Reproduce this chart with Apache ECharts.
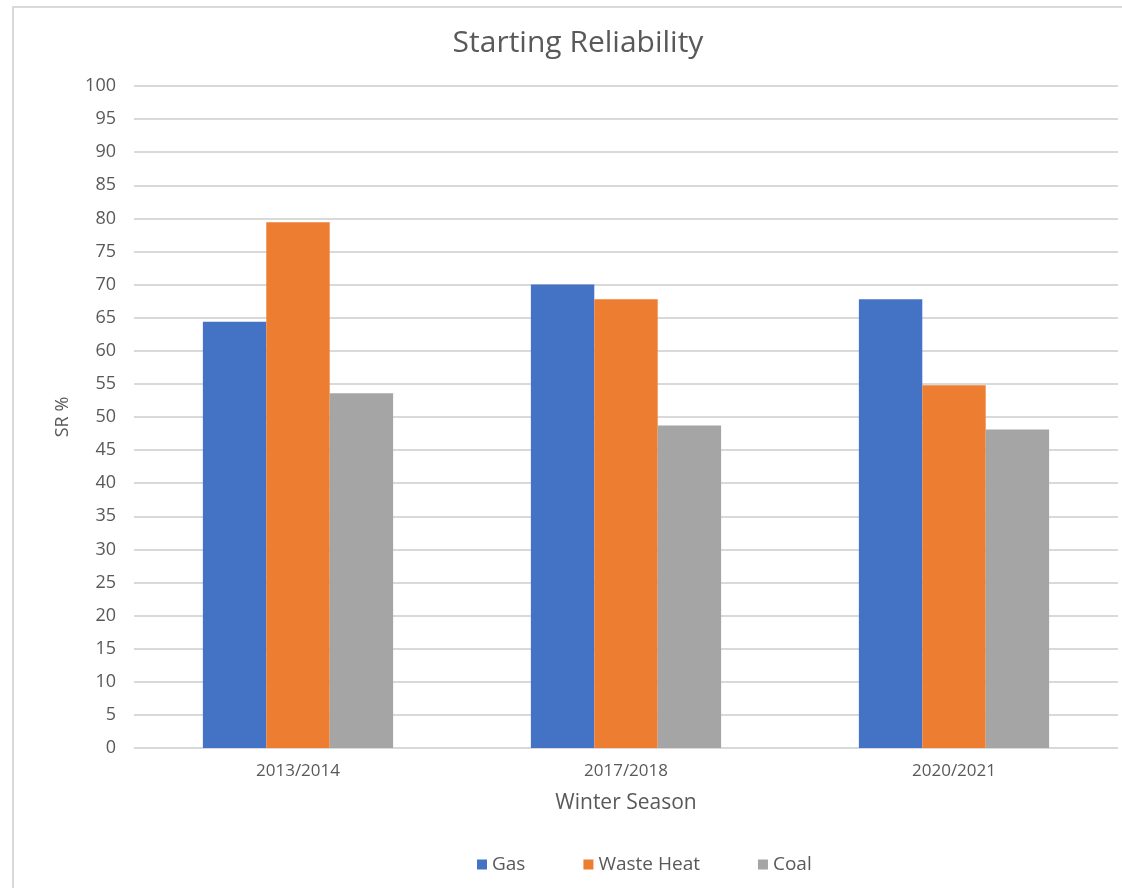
<!DOCTYPE html>
<html>
<head>
<meta charset="utf-8">
<script src="https://cdn.jsdelivr.net/npm/echarts@6/dist/echarts.min.js"></script>
<style>
  html, body { margin: 0; padding: 0; background: #fff; }
  #chart { width: 1122px; height: 888px; }
</style>
</head>
<body>
<div id="chart"></div>
<script>
// Winter seasons on the category axis
const seasons = ['2013/2014', '2017/2018', '2020/2021'];

// Starting reliability (%) per unit type
const gas = [64.4, 70.0, 67.8];
const wasteHeat = [79.4, 67.8, 54.8];
const coal = [53.6, 48.7, 48.1];

// Value-axis range and step
const yMin = 0;
const yMax = 100;
const yStep = 5;

const FONT = '"Open Sans", "Noto Sans", sans-serif';
const TEXT = '#595959';

const chart = echarts.init(document.getElementById('chart'), null, { renderer: 'canvas' });

function barSeries(name, data, color) {
  return {
    name: name,
    type: 'bar',
    data: data,
    barGap: '0%',
    barCategoryGap: '42%',
    itemStyle: { color: color },
    emphasis: { disabled: true }
  };
}

chart.setOption({
  animation: false,
  backgroundColor: '#ffffff',
  textStyle: { fontFamily: FONT },
  graphic: [
    {
      type: 'polyline',
      shape: { points: [[13, 888], [13, 7], [1122, 7]] },
      style: { stroke: '#d9d9d9', lineWidth: 2, fill: null },
      silent: true
    }
  ],
  title: {
    text: 'Starting Reliability',
    left: 573,
    textAlign: 'center',
    top: 23,
    textStyle: { fontFamily: FONT, fontSize: 30, fontWeight: 'normal', color: TEXT }
  },
  legend: {
    top: 850,
    left: 472,
    itemWidth: 10,
    itemHeight: 10,
    itemGap: 58,
    icon: 'rect',
    textStyle: { fontFamily: FONT, fontSize: 19, color: TEXT }
  },
  grid: { left: 134, right: 4, top: 86, bottom: 140, containLabel: false },
  xAxis: {
    type: 'category',
    data: seasons,
    name: 'Winter Season',
    nameLocation: 'middle',
    nameGap: 45,
    nameTextStyle: { fontFamily: FONT, fontSize: 21, color: TEXT },
    axisLine: { show: true, lineStyle: { color: '#d9d9d9', width: 1 } },
    axisTick: { show: false },
    axisLabel: { fontFamily: FONT, fontSize: 17, color: TEXT, margin: 15 }
  },
  yAxis: {
    type: 'value',
    min: yMin,
    max: yMax,
    interval: yStep,
    name: 'SR %',
    nameLocation: 'middle',
    nameGap: 62,
    nameRotate: 90,
    nameTextStyle: { fontFamily: FONT, fontSize: 18, color: TEXT },
    axisLine: { show: false },
    axisTick: { show: false },
    axisLabel: { fontFamily: FONT, fontSize: 18, color: TEXT, margin: 18 },
    splitLine: { lineStyle: { color: '#d9d9d9', width: 2 } }
  },
  series: [
    barSeries('Gas', gas, '#4472c4'),
    barSeries('Waste Heat', wasteHeat, '#ed7d31'),
    barSeries('Coal', coal, '#a5a5a5')
  ]
});
</script>
</body>
</html>
